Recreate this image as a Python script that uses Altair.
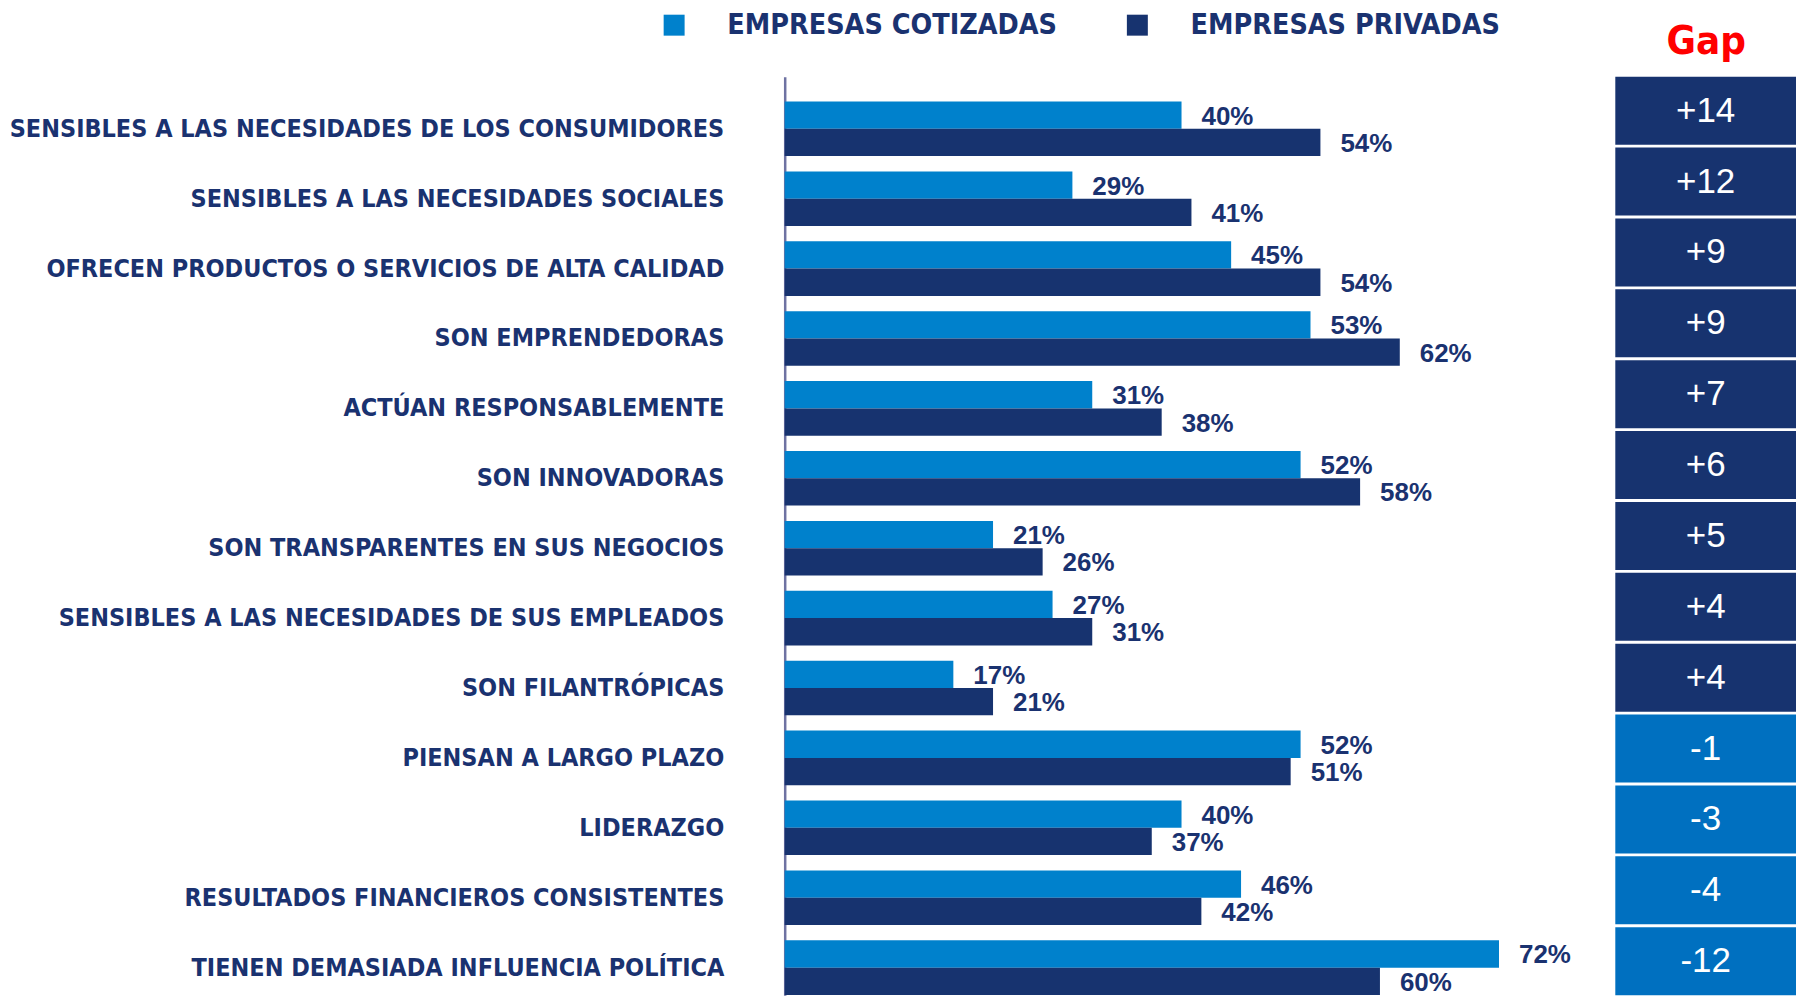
import altair as alt
import pandas as pd

# ---- data ----
categories = [
    "SENSIBLES A LAS NECESIDADES DE LOS CONSUMIDORES",
    "SENSIBLES A LAS NECESIDADES SOCIALES",
    "OFRECEN PRODUCTOS O SERVICIOS DE ALTA CALIDAD",
    "SON EMPRENDEDORAS",
    "ACTÚAN RESPONSABLEMENTE",
    "SON INNOVADORAS",
    "SON TRANSPARENTES EN SUS NEGOCIOS",
    "SENSIBLES A LAS NECESIDADES DE SUS EMPLEADOS",
    "SON FILANTRÓPICAS",
    "PIENSAN A LARGO PLAZO",
    "LIDERAZGO",
    "RESULTADOS FINANCIEROS CONSISTENTES",
    "TIENEN DEMASIADA INFLUENCIA POLÍTICA",
]
series = ["EMPRESAS COTIZADAS", "EMPRESAS PRIVADAS"]
cotizadas = [40, 29, 45, 53, 31, 52, 21, 27, 17, 52, 40, 46, 72]
privadas = [54, 41, 54, 62, 38, 58, 26, 31, 21, 51, 37, 42, 60]
gaps = [14, 12, 9, 9, 7, 6, 5, 4, 4, -1, -3, -4, -12]
gap_labels = ["+14", "+12", "+9", "+9", "+7", "+6", "+5", "+4", "+4", "-1", "-3", "-4", "-12"]
gap_title = "Gap"

# ---- styles ----
LIGHT = "#0081CC"
DARK = "#17336F"
NEG_BOX = "#0070C0"
NAVY_TXT = "#1A3270"
NARROW = "DejaVu Sans Condensed, sans-serif"
SANS = "Liberation Sans, Arial, sans-serif"

rows = []
for s, vals in zip(series, [cotizadas, privadas]):
    for c, v in zip(categories, vals):
        rows.append({"category": c, "series": s, "value": v, "label": f"{v}%"})
df = pd.DataFrame(rows)

gap_df = pd.DataFrame({
    "category": categories,
    "gap": gaps,
    "label": gap_labels,
})

PLOT_H = 920

y_bars = alt.Y(
    "category:N",
    sort=categories,
    scale=alt.Scale(paddingInner=0.219, paddingOuter=0.179, align=0.99),
    axis=alt.Axis(
        title=None,
        labelFont=NARROW,
        labelFontSize=25,
        labelFontWeight="bold",
        labelColor=NAVY_TXT,
        labelPadding=61,
        labelLimit=1000,
        ticks=False,
        domainColor="#6E72A2",
        domainWidth=2.5,
        minExtent=774,
    ),
)
y_off = alt.YOffset("series:N", sort=series, scale=alt.Scale(paddingInner=0, paddingOuter=0))
x_val = alt.X("value:Q", scale=alt.Scale(domain=[0, 80]), axis=None)

base = alt.Chart(df)
bars = base.mark_bar().encode(
    y=y_bars,
    yOffset=y_off,
    x=x_val,
    color=alt.Color(
        "series:N",
        sort=series,
        scale=alt.Scale(domain=series, range=[LIGHT, DARK]),
        legend=alt.Legend(
            orient="none",
            legendX=-125,
            legendY=-66,
            direction="horizontal",
            title=None,
            symbolType="square",
            symbolSize=441,
            symbolStrokeWidth=0,
            symbolOpacity=1,
            labelFont=NARROW,
            labelFontSize=28.5,
            labelFontWeight="bold",
            labelColor=NAVY_TXT,
            labelOffset=39,
            columnPadding=66,
            labelLimit=800,
            padding=0,
        ),
    ),
)
values = base.mark_text(
    align="left", baseline="middle", dx=20, dy=1.5,
    font=SANS, fontSize=26, fontWeight="bold", color=NAVY_TXT,
).encode(y=y_bars, yOffset=y_off, x=x_val, text="label:N")

left = alt.layer(bars, values).properties(width=795, height=PLOT_H)

y_gap = alt.Y("category:N", sort=categories,
              scale=alt.Scale(paddingInner=0.04, paddingOuter=0), axis=None)
x_gap_scale = alt.Scale(domain=[0, 1])
x_gap_axis = alt.Axis(
    orient="top", title=gap_title, labels=False, ticks=False, domain=False, grid=False,
    titleFont=NARROW, titleFontSize=40, titleFontWeight="bold", titleColor="#FF0000",
    titleBaseline="alphabetic", titlePadding=23,
)
gap_rect = alt.Chart(gap_df).mark_rect().encode(
    y=y_gap,
    x=alt.X(datum=0, scale=x_gap_scale, axis=x_gap_axis),
    x2=alt.X2(datum=1),
    color=alt.condition(alt.datum.gap > 0, alt.value(DARK), alt.value(NEG_BOX)),
)
gap_text = alt.Chart(gap_df).mark_text(
    font=SANS, fontSize=35, color="white", baseline="middle",
).encode(y=y_gap, x=alt.X(datum=0.5, scale=x_gap_scale), text="label:N")

right = alt.layer(gap_rect, gap_text).properties(width=181, height=PLOT_H)

chart = (
    alt.hconcat(left, right, spacing=37)
    .resolve_scale(color="independent", y="independent", x="independent")
    .properties(background="white", padding={"left": 0, "top": 2, "right": 0, "bottom": 0})
    .configure_view(stroke=None, strokeWidth=0)
)

chart.save("out.html", embed_options={"renderer": "svg", "actions": False})
